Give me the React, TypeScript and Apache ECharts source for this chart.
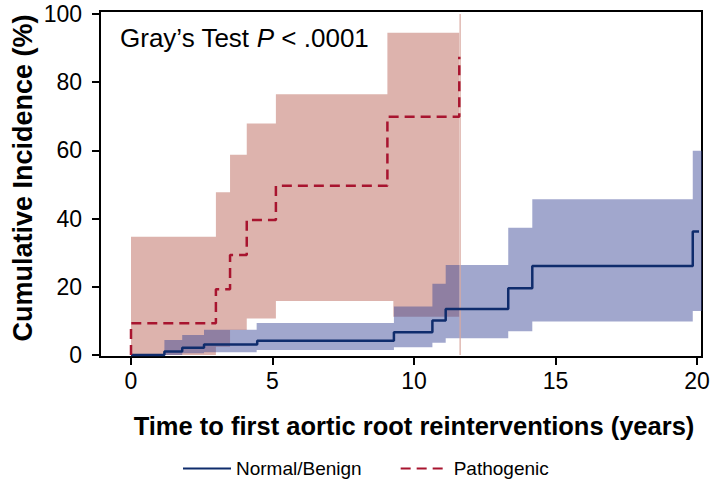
import React, { useEffect, useRef } from "react";
import * as echarts from "echarts";

// Tick labels
const xTicks = [0, 5, 10, 15, 20];
const yTicks = [0, 20, 40, 60, 80, 100];

// Normal/Benign cumulative incidence (step starts)
const benignT = [0, 1.18, 1.81, 2.58, 4.46, 9.29, 10.65, 11.12, 13.33, 14.18, 19.85, 20.18];
const benignV = [0, 1.0, 2.1, 3.1, 4.2, 6.7, 10.1, 13.5, 19.6, 26.1, 36.2, 36.2];

// Pathogenic cumulative incidence (step starts)
const pathoT = [0, 0, 3.0, 3.5, 4.09, 5.12, 9.06, 11.6];
const pathoV = [0, 9.3, 19.3, 29.3, 39.6, 49.6, 69.9, 87.5];

// Confidence bands
const benignBandT = [0, 1.18, 1.81, 2.58, 4.44, 9.29, 10.65, 11.12, 13.33, 14.18, 19.85];
const benignUpper = [0, 4.4, 5.9, 7.4, 9.4, 14.2, 20.9, 26.4, 37.3, 45.7, 59.9];
const benignLower = [0, 0, 0.5, 0.8, 1.5, 2.3, 3.6, 4.9, 7.0, 9.8, 12.9];
const benignBandEnd = 20.18;

const pathoUpperT = [0, 3.0, 3.5, 4.09, 5.12, 9.06];
const pathoUpper = [34.7, 47.7, 58.7, 67.9, 76.5, 94.5];
const pathoLowerT = [0, 3.0, 3.5, 4.09, 5.12, 9.27];
const pathoLower = [0, 2.4, 7.3, 10.7, 15.8, 11.2];
const pathoBandEnd = 11.6;

// Follow-up end marker for pathogenic group
const pathoCensor = 11.63;

const FONT = "'Liberation Sans', Arial, Helvetica, sans-serif";

function bandPoints(
  api: any,
  upT: number[],
  up: number[],
  loT: number[],
  lo: number[],
  end: number
) {
  const pts: number[][] = [];
  for (let i = 0; i < upT.length; i++) {
    const next = i + 1 < upT.length ? upT[i + 1] : end;
    pts.push(api.coord([upT[i], up[i]]));
    pts.push(api.coord([next, up[i]]));
  }
  for (let i = loT.length - 1; i >= 0; i--) {
    const next = i + 1 < loT.length ? loT[i + 1] : end;
    pts.push(api.coord([next, lo[i]]));
    pts.push(api.coord([loT[i], lo[i]]));
  }
  return pts;
}

export default function App() {
  const ref = useRef<HTMLDivElement>(null);

  useEffect(() => {
    if (!ref.current) return;
    const chart = echarts.init(ref.current, null, { renderer: "svg" });

    const option: any = {
      animation: false,
      backgroundColor: "#ffffff",
      textStyle: { fontFamily: FONT },
      grid: [
        {
          // data area
          left: 131,
          right: 17,
          top: 14,
          bottom: 128,
          outerBoundsMode: "none",
          containLabel: false,
        },
        {
          // frame
          left: 100,
          right: 12,
          top: 11,
          bottom: 126,
          show: true,
          borderColor: "#000",
          borderWidth: 2,
          backgroundColor: "transparent",
          outerBoundsMode: "none",
          containLabel: false,
        },
      ],
      xAxis: [
        {
          type: "value",
          gridIndex: 0,
          position: "bottom",
          min: xTicks[0],
          max: xTicks[xTicks.length - 1],
          interval: 5,
          offset: 2,
          name: "Time to first aortic root reinterventions (years)",
          nameLocation: "middle",
          nameGap: 56,
          nameTextStyle: { fontFamily: FONT, fontSize: 25.5, fontWeight: "bold", color: "#000" },
          axisLine: { show: true, onZero: false, lineStyle: { color: "#000", width: 2 } },
          axisTick: {
            show: true,
            inside: false,
            length: 8,
            lineStyle: { color: "#000", width: 2 },
          },
          axisLabel: {
            show: true,
            inside: false,
            fontFamily: FONT,
            fontSize: 23,
            color: "#000",
            margin: 12,
            showMinLabel: true,
            showMaxLabel: true,
          },
          splitLine: { show: false },
        },
        { type: "value", gridIndex: 1, show: false, min: 0, max: 1 },
      ],
      yAxis: [
        {
          type: "value",
          gridIndex: 0,
          position: "left",
          min: yTicks[0],
          max: yTicks[yTicks.length - 1],
          interval: 20,
          offset: 31,
          axisLine: { show: true, onZero: false, lineStyle: { color: "#000", width: 2 } },
          axisTick: {
            show: true,
            inside: false,
            length: 8,
            lineStyle: { color: "#000", width: 2 },
          },
          axisLabel: {
            show: true,
            inside: false,
            fontFamily: FONT,
            fontSize: 23,
            color: "#000",
            margin: 18,
            showMinLabel: true,
            showMaxLabel: true,
          },
          splitLine: { show: false },
        },
        { type: "value", gridIndex: 1, show: false, min: 0, max: 1 },
      ],
      legend: {
        data: ["Normal/Benign", "Pathogenic"],
        left: 177,
        top: 454,
        itemWidth: 48,
        itemHeight: 14,
        itemGap: 38,
        itemStyle: { opacity: 0 },
        textStyle: { fontFamily: FONT, fontSize: 19, color: "#000" },
      },
      graphic: [
        {
          type: "text",
          left: 120,
          top: 25,
          style: {
            text: "{a|Gray’s Test }{p|P}{a| < .0001}",
            rich: {
              a: { fontFamily: FONT, fontSize: 26, fill: "#000" },
              p: { fontFamily: FONT, fontSize: 26, fontStyle: "italic", fill: "#000" },
            },
          },
        },
        {
          type: "text",
          x: 23,
          y: 178,
          rotation: Math.PI / 2,
          style: {
            text: "Cumulative Incidence (%)",
            fontFamily: FONT,
            fontSize: 27,
            fontWeight: "bold",
            fill: "#000",
            align: "center",
            verticalAlign: "middle",
          },
        },
      ],
      series: [
        {
          name: "PathoBand",
          type: "custom",
          coordinateSystem: "cartesian2d",
          xAxisIndex: 0,
          yAxisIndex: 0,
          silent: true,
          clip: false,
          data: [[0, 0]],
          renderItem: (_params: any, api: any) => ({
            type: "polygon",
            shape: {
              points: bandPoints(api, pathoUpperT, pathoUpper, pathoLowerT, pathoLower, pathoBandEnd),
            },
            style: { fill: "rgba(178, 82, 68, 0.44)" },
          }),
          z: 1,
        },
        {
          name: "BenignBand",
          type: "custom",
          coordinateSystem: "cartesian2d",
          xAxisIndex: 0,
          yAxisIndex: 0,
          silent: true,
          clip: false,
          data: [[0, 0]],
          renderItem: (_params: any, api: any) => ({
            type: "polygon",
            shape: {
              points: bandPoints(api, benignBandT, benignUpper, benignBandT, benignLower, benignBandEnd),
            },
            style: { fill: "rgba(58, 72, 150, 0.48)" },
          }),
          z: 2,
        },
        {
          name: "Censor",
          type: "line",
          xAxisIndex: 0,
          yAxisIndex: 0,
          silent: true,
          symbol: "none",
          clip: false,
          data: [
            [pathoCensor, 0],
            [pathoCensor, 100],
          ],
          lineStyle: { color: "#d9a8a0", width: 1.2 },
          z: 3,
        },
        {
          name: "Normal/Benign",
          type: "line",
          xAxisIndex: 0,
          yAxisIndex: 0,
          step: "end",
          symbol: "none",
          clip: false,
          data: benignT.map((t, i) => [t, benignV[i]]),
          lineStyle: { color: "#0f2c6c", width: 2.5 },
          itemStyle: { color: "#0f2c6c" },
          z: 4,
        },
        {
          name: "Pathogenic",
          type: "line",
          xAxisIndex: 0,
          yAxisIndex: 0,
          step: "end",
          symbol: "none",
          clip: false,
          data: pathoT.map((t, i) => [t, pathoV[i]]),
          lineStyle: { color: "#a8142f", width: 2.5, type: [10, 6] },
          itemStyle: { color: "#a8142f" },
          z: 5,
        },
      ],
    };

    chart.setOption(option);
    return () => chart.dispose();
  }, []);

  return <div ref={ref} style={{ width: 714, height: 483, position: "absolute", left: 0, top: 0 }} />;
}
